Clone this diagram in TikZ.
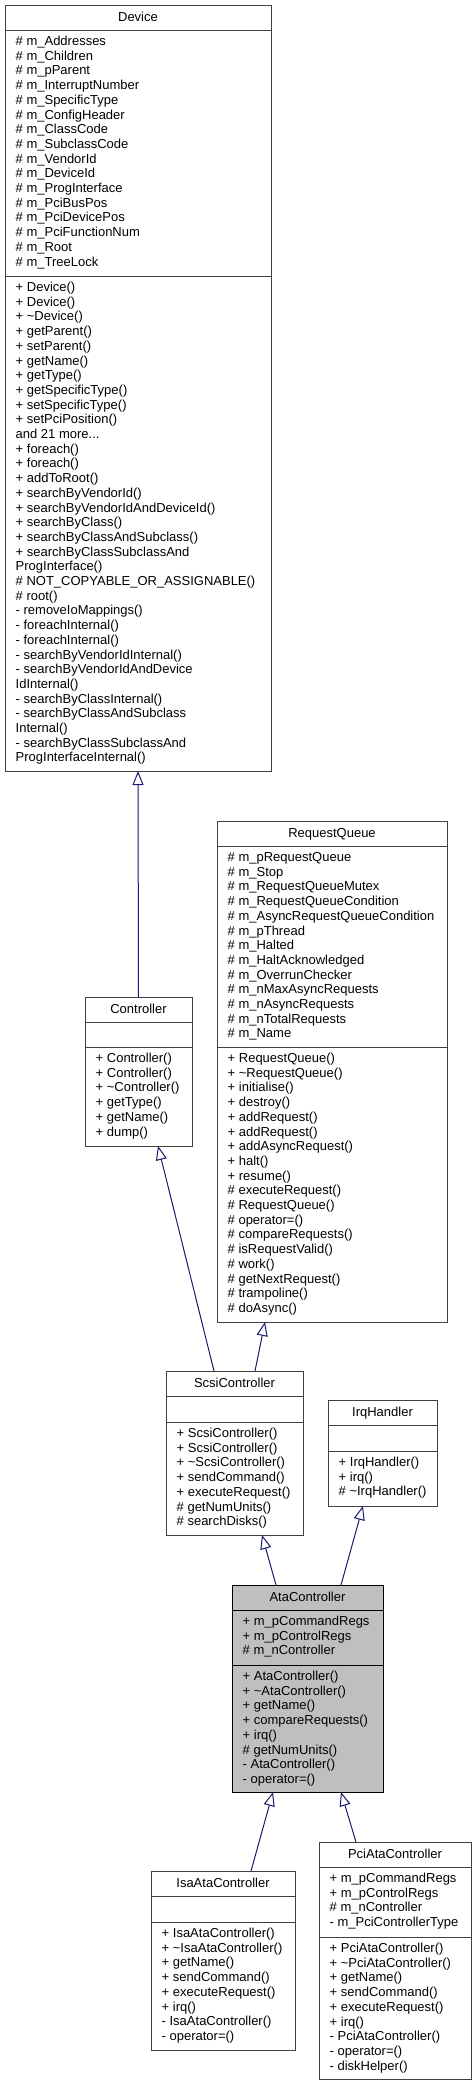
\documentclass[tikz,border=0pt]{standalone}
\usepackage{fontspec}
\setmainfont{Liberation Sans}
\usetikzlibrary{arrows.meta}
\definecolor{boxgray}{HTML}{404040}
\definecolor{arrowblue}{HTML}{191970}
\definecolor{curfill}{HTML}{BFBFBF}
\newcommand\cfont{\fontsize{13}{14.7}\selectfont}
\tikzset{
  clsbox/.style={draw=boxgray, fill=white, line width=1pt, anchor=north west, inner sep=0pt, outer sep=0pt},
  sepline/.style={draw=boxgray, line width=1pt},
  txt/.style={anchor=base west, inner sep=0pt, font=\cfont},
  ttl/.style={anchor=base, inner sep=0pt, font=\cfont},
  inh/.style={draw=arrowblue, line width=1pt, -{Triangle[length=14pt, width=11pt, fill=white]}},
}
% #1 name, #2 x1, #3 x2, #4 top, #5 second separator, #6 bottom, #7 title, #8 attributes, #9 methods
\newcommand\umlclass[9]{%
  \node[clsbox, minimum width={#3-#2}, minimum height={#6-#4}] (#1) at (#2,#4) {};
  \draw[sepline] ([yshift=-25pt]#1.north west) -- ([yshift=-25pt]#1.north east);
  \draw[sepline] ([yshift={-(#5-#4)}]#1.north west) -- ([yshift={-(#5-#4)}]#1.north east);
  \node[ttl] (#1-t) at ([yshift=-16.5pt]#1.north) {#7};
  \node[txt] (#1-a) at ([xshift=10.5pt,yshift=-40.5pt]#1.north west) {\begin{tabular}[t]{@{}l@{}}#8\end{tabular}};
  \node[txt] (#1-m) at ([xshift=10.5pt,yshift={-(#5-#4+15.5)}]#1.north west) {\begin{tabular}[t]{@{}l@{}}#9\end{tabular}};
}
\begin{document}
\begin{tikzpicture}[x=1pt,y=-1pt]
\useasboundingbox (0,0) rectangle (476,2085);

\umlclass{device}{5}{271}{5}{276}{771}{Device}{%
\# m\_Addresses\\
\# m\_Children\\
\# m\_pParent\\
\# m\_InterruptNumber\\
\# m\_SpecificType\\
\# m\_ConfigHeader\\
\# m\_ClassCode\\
\# m\_SubclassCode\\
\# m\_VendorId\\
\# m\_DeviceId\\
\# m\_ProgInterface\\
\# m\_PciBusPos\\
\# m\_PciDevicePos\\
\# m\_PciFunctionNum\\
\# m\_Root\\
\# m\_TreeLock}{%
+ Device()\\
+ Device()\\
+ \textasciitilde Device()\\
+ getParent()\\
+ setParent()\\
+ getName()\\
+ getType()\\
+ getSpecificType()\\
+ setSpecificType()\\
+ setPciPosition()\\
and 21 more...\\
+ foreach()\\
+ foreach()\\
+ addToRoot()\\
+ searchByVendorId()\\
+ searchByVendorIdAndDeviceId()\\
+ searchByClass()\\
+ searchByClassAndSubclass()\\
+ searchByClassSubclassAnd\\
ProgInterface()\\
\# NOT\_COPYABLE\_OR\_ASSIGNABLE()\\
\# root()\\
- removeIoMappings()\\
- foreachInternal()\\
- foreachInternal()\\
- searchByVendorIdInternal()\\
- searchByVendorIdAndDevice\\
IdInternal()\\
- searchByClassInternal()\\
- searchByClassAndSubclass\\
Internal()\\
- searchByClassSubclassAnd\\
ProgInterfaceInternal()}

\umlclass{rq}{217}{447}{821}{1047}{1322}{RequestQueue}{%
\# m\_pRequestQueue\\
\# m\_Stop\\
\# m\_RequestQueueMutex\\
\# m\_RequestQueueCondition\\
\# m\_AsyncRequestQueueCondition\\
\# m\_pThread\\
\# m\_Halted\\
\# m\_HaltAcknowledged\\
\# m\_OverrunChecker\\
\# m\_nMaxAsyncRequests\\
\# m\_nAsyncRequests\\
\# m\_nTotalRequests\\
\# m\_Name}{%
+ RequestQueue()\\
+ \textasciitilde RequestQueue()\\
+ initialise()\\
+ destroy()\\
+ addRequest()\\
+ addRequest()\\
+ addAsyncRequest()\\
+ halt()\\
+ resume()\\
\# executeRequest()\\
\# RequestQueue()\\
\# operator=()\\
\# compareRequests()\\
\# isRequestValid()\\
\# work()\\
\# getNextRequest()\\
\# trampoline()\\
\# doAsync()}

\umlclass{ctrl}{85}{192}{997}{1047}{1146}{Controller}{}{%
+ Controller()\\
+ Controller()\\
+ \textasciitilde Controller()\\
+ getType()\\
+ getName()\\
+ dump()}

\umlclass{scsi}{166}{303}{1371}{1422}{1535}{ScsiController}{}{%
+ ScsiController()\\
+ ScsiController()\\
+ \textasciitilde ScsiController()\\
+ sendCommand()\\
+ executeRequest()\\
\# getNumUnits()\\
\# searchDisks()}

\umlclass{irq}{328}{437}{1400}{1451}{1506}{IrqHandler}{}{%
+ IrqHandler()\\
+ irq()\\
\# \textasciitilde IrqHandler()}

\tikzset{clsbox/.append style={draw=black, fill=curfill}, sepline/.style={draw=black, line width=1pt}}
\umlclass{ata}{232}{383}{1585}{1665}{1792}{AtaController}{%
+ m\_pCommandRegs\\
+ m\_pControlRegs\\
\# m\_nController}{%
+ AtaController()\\
+ \textasciitilde AtaController()\\
+ getName()\\
+ compareRequests()\\
+ irq()\\
\# getNumUnits()\\
- AtaController()\\
- operator=()}
\tikzset{clsbox/.append style={draw=boxgray, fill=white}, sepline/.style={draw=boxgray, line width=1pt}}

\umlclass{isa}{151}{295}{1871}{1922}{2050}{IsaAtaController}{}{%
+ IsaAtaController()\\
+ \textasciitilde IsaAtaController()\\
+ getName()\\
+ sendCommand()\\
+ executeRequest()\\
+ irq()\\
- IsaAtaController()\\
- operator=()}

\umlclass{pci}{319}{471}{1842}{1937}{2079}{PciAtaController}{%
+ m\_pCommandRegs\\
+ m\_pControlRegs\\
\# m\_nController\\
- m\_PciControllerType}{%
+ PciAtaController()\\
+ \textasciitilde PciAtaController()\\
+ getName()\\
+ sendCommand()\\
+ executeRequest()\\
+ irq()\\
- PciAtaController()\\
- operator=()\\
- diskHelper()}

\draw[inh] (ctrl.north) -- (device.south);
\draw[inh] ([xshift=-20.5pt]scsi.north) -- ([xshift=19.5pt]ctrl.south);
\draw[inh] ([xshift=20.5pt]scsi.north) -- ([xshift=-67pt]rq.south);
\draw[inh] ([xshift=-31.5pt]ata.north) -- ([xshift=27.5pt]scsi.south);
\draw[inh] ([xshift=33.5pt]ata.north) -- ([xshift=-19.5pt]irq.south);
\draw[inh] ([xshift=28pt]isa.north) -- ([xshift=-34.5pt]ata.south);
\draw[inh] ([xshift=-39pt]pci.north) -- ([xshift=33.5pt]ata.south);
\end{tikzpicture}
\end{document}
